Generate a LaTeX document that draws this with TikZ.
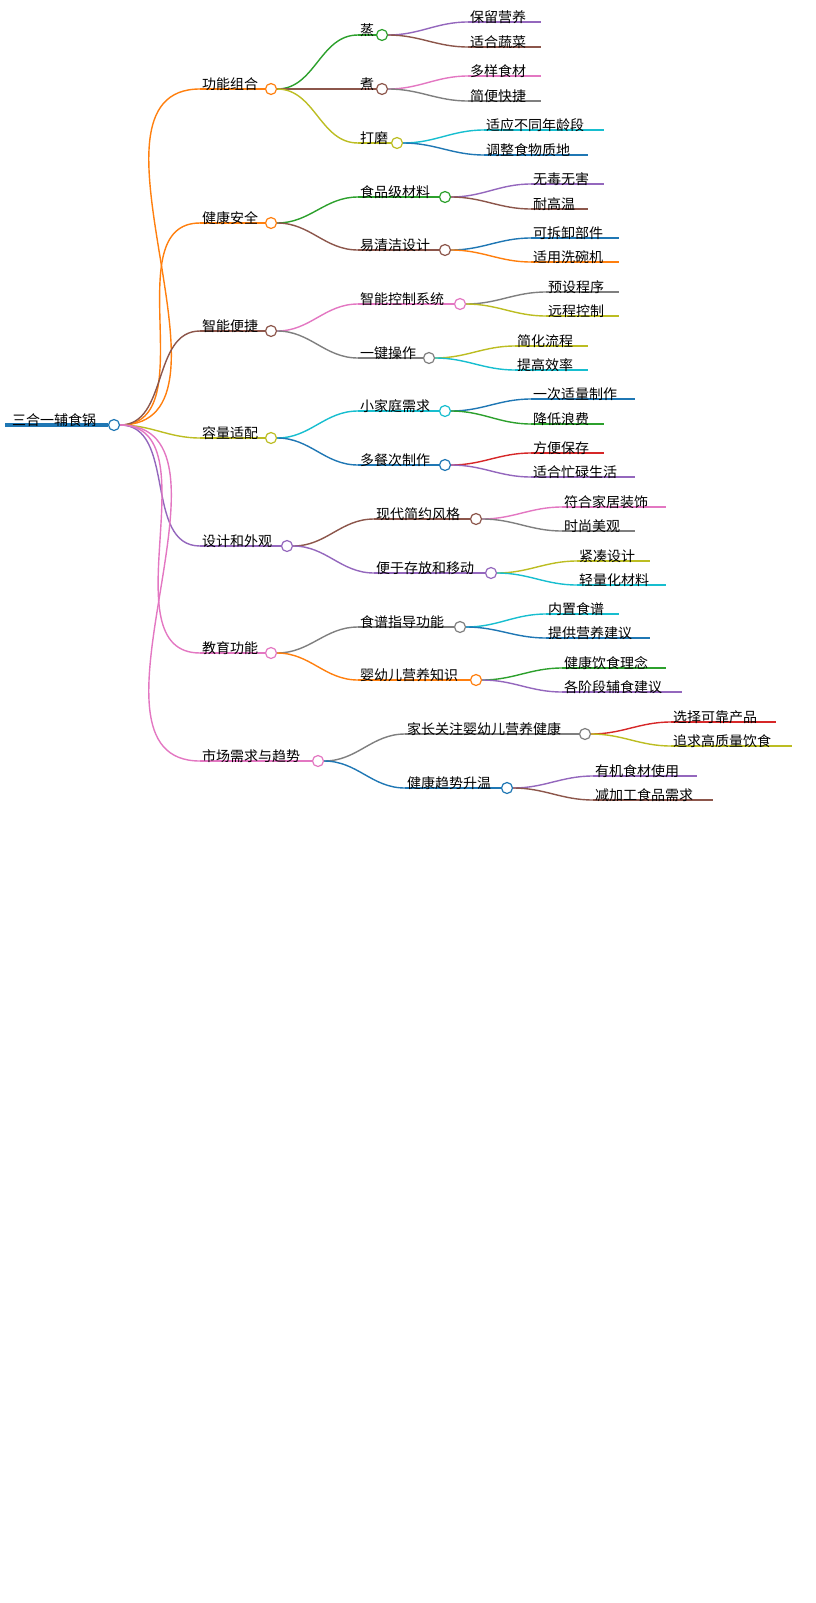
\documentclass[tikz,border=0pt]{standalone}
\usepackage{fontspec}
\setmainfont{Noto Sans CJK SC}
\definecolor{cOra}{HTML}{FF7F0E}
\definecolor{cGre}{HTML}{2CA02C}
\definecolor{cBro}{HTML}{8C564B}
\definecolor{cOli}{HTML}{BCBD22}
\definecolor{cPur}{HTML}{9467BD}
\definecolor{cPin}{HTML}{E377C2}
\definecolor{cGra}{HTML}{7F7F7F}
\definecolor{cCya}{HTML}{17BECF}
\definecolor{cBlu}{HTML}{1F77B4}
\definecolor{cRed}{HTML}{D62728}
\tikzset{
  knob/.style={circle,fill=white,line width=1.2pt,inner sep=0pt,minimum size=11pt},
  tag/.style={anchor=south west,inner sep=1pt,font=\fontsize{14}{14}\selectfont},
  wire/.style={line width=1.4pt}
}
% #1 name, #2 parent, #3 x start, #4 x end, #5 y, #6 colour, #7 text
\newcommand\mmtopic[7]{%
  \coordinate (#1s) at (#3,#5);
  \draw[wire,#6] (#2.east) to[out=0,in=180] (#1s);
  \node[knob,draw=#6] (#1) at (#4,#5) {};
  \draw[wire,#6] (#1s) -- (#1.west);
  \node[tag] at ([xshift=1pt,yshift=-3pt]#1s) {#7};}
\newcommand\mmleaf[7]{%
  \coordinate (#1s) at (#3,#5);
  \coordinate (#1) at (#4,#5);
  \draw[wire,#6] (#2.east) to[out=0,in=180] (#1s);
  \draw[wire,#6] (#1s) -- (#1);
  \node[tag] at ([xshift=1pt,yshift=-3pt]#1s) {#7};}
\begin{document}
\begin{tikzpicture}[x=1pt,y=-1pt]
\useasboundingbox (0,0) rectangle (815,1603);

% root
\coordinate (roots) at (5,425);
\draw[cBlu,line width=3.5pt] (roots) -- (108,425);
\node[knob,draw=cBlu] (root) at (114,425) {};
\node[tag] at ([xshift=6pt,yshift=-3pt]roots) {三合一辅食锅};

% 功能组合
\mmtopic{a}{root}{200}{271}{89}{cOra}{功能组合}
\mmtopic{a1}{a}{358}{382}{35}{cGre}{蒸}
\mmleaf{a11}{a1}{468}{541}{22}{cPur}{保留营养}
\mmleaf{a12}{a1}{468}{541}{47}{cBro}{适合蔬菜}
\mmtopic{a2}{a}{358}{382}{89}{cBro}{煮}
\mmleaf{a21}{a2}{468}{541}{76}{cPin}{多样食材}
\mmleaf{a22}{a2}{468}{541}{101}{cGra}{简便快捷}
\mmtopic{a3}{a}{358}{397}{143}{cOli}{打磨}
\mmleaf{a31}{a3}{484}{604}{130}{cCya}{适应不同年龄段}
\mmleaf{a32}{a3}{484}{588}{155}{cBlu}{调整食物质地}

% 健康安全
\mmtopic{b}{root}{200}{271}{223}{cOra}{健康安全}
\mmtopic{b1}{b}{358}{445}{197}{cGre}{食品级材料}
\mmleaf{b11}{b1}{531}{604}{184}{cPur}{无毒无害}
\mmleaf{b12}{b1}{531}{588}{209}{cBro}{耐高温}
\mmtopic{b2}{b}{358}{445}{250}{cBro}{易清洁设计}
\mmleaf{b21}{b2}{531}{619}{238}{cBlu}{可拆卸部件}
\mmleaf{b22}{b2}{531}{619}{262}{cOra}{适用洗碗机}

% 智能便捷
\mmtopic{c}{root}{200}{271}{331}{cBro}{智能便捷}
\mmtopic{c1}{c}{358}{460}{304}{cPin}{智能控制系统}
\mmleaf{c11}{c1}{546}{619}{292}{cGra}{预设程序}
\mmleaf{c12}{c1}{546}{619}{316}{cOli}{远程控制}
\mmtopic{c2}{c}{358}{429}{358}{cGra}{一键操作}
\mmleaf{c21}{c2}{515}{588}{346}{cOli}{简化流程}
\mmleaf{c22}{c2}{515}{588}{370}{cCya}{提高效率}

% 容量适配
\mmtopic{d}{root}{200}{271}{438}{cOli}{容量适配}
\mmtopic{d1}{d}{358}{445}{411}{cCya}{小家庭需求}
\mmleaf{d11}{d1}{531}{635}{399}{cBlu}{一次适量制作}
\mmleaf{d12}{d1}{531}{604}{424}{cGre}{降低浪费}
\mmtopic{d2}{d}{358}{445}{465}{cBlu}{多餐次制作}
\mmleaf{d21}{d2}{531}{604}{453}{cRed}{方便保存}
\mmleaf{d22}{d2}{531}{635}{477}{cPur}{适合忙碌生活}

% 设计和外观
\mmtopic{e}{root}{200}{287}{546}{cPur}{设计和外观}
\mmtopic{e1}{e}{374}{476}{519}{cBro}{现代简约风格}
\mmleaf{e11}{e1}{562}{666}{507}{cPin}{符合家居装饰}
\mmleaf{e12}{e1}{562}{635}{531}{cGra}{时尚美观}
\mmtopic{e2}{e}{374}{491}{573}{cPur}{便于存放和移动}
\mmleaf{e21}{e2}{577}{650}{561}{cOli}{紧凑设计}
\mmleaf{e22}{e2}{577}{666}{585}{cCya}{轻量化材料}

% 教育功能
\mmtopic{f}{root}{200}{271}{653}{cPin}{教育功能}
\mmtopic{f1}{f}{358}{460}{627}{cGra}{食谱指导功能}
\mmleaf{f11}{f1}{546}{619}{614}{cCya}{内置食谱}
\mmleaf{f12}{f1}{546}{650}{638}{cBlu}{提供营养建议}
\mmtopic{f2}{f}{358}{476}{680}{cOra}{婴幼儿营养知识}
\mmleaf{f21}{f2}{562}{666}{668}{cGre}{健康饮食理念}
\mmleaf{f22}{f2}{562}{682}{692}{cPur}{各阶段辅食建议}

% 市场需求与趋势
\mmtopic{g}{root}{200}{318}{761}{cPin}{市场需求与趋势}
\mmtopic{g1}{g}{405}{585}{734}{cGra}{家长关注婴幼儿营养健康}
\mmleaf{g11}{g1}{671}{776}{722}{cRed}{选择可靠产品}
\mmleaf{g12}{g1}{671}{792}{746}{cOli}{追求高质量饮食}
\mmtopic{g2}{g}{405}{507}{788}{cBlu}{健康趋势升温}
\mmleaf{g21}{g2}{593}{697}{776}{cPur}{有机食材使用}
\mmleaf{g22}{g2}{593}{713}{800}{cBro}{减加工食品需求}
\end{tikzpicture}
\end{document}
